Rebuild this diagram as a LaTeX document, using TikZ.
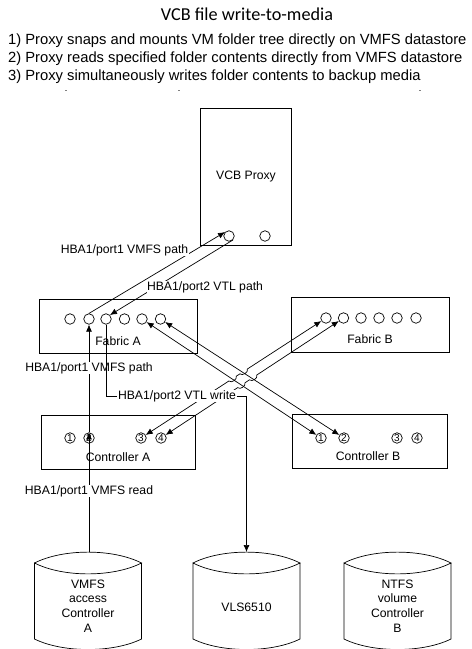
\documentclass[tikz,border=0pt]{standalone}
\usepackage{fontspec}
\setmainfont{Liberation Sans}
\newfontfamily\titlefont{Carlito}
\usetikzlibrary{positioning,arrows.meta,calc}
\tikzset{
  unitbox/.style={draw,line width=0.8pt,inner sep=0pt},
  port/.style={draw,circle,line width=0.7pt,minimum size=10.5pt,inner sep=0pt},
  ctrlport/.style={port,font=\fontsize{10}{10}\selectfont},
  lbl/.style={font=\fontsize{12.2}{14.6}\selectfont,inner sep=0.5pt,align=center},
  pathlbl/.style={lbl,fill=white},
  headline/.style={font=\fontsize{14.75}{18}\selectfont,anchor=west,inner sep=0pt},
  link/.style={line width=0.7pt,-{Latex[length=7pt,width=6pt]}},
  duplex/.style={line width=0.7pt,{Latex[length=7pt,width=6pt]}-{Latex[length=7pt,width=6pt]}}
}
\begin{document}
\begin{tikzpicture}[x=1pt,y=-1pt]
  \useasboundingbox (0,0) rectangle (472,649);
  % heading
  \node[font=\titlefont\fontsize{18.2}{18}\selectfont,inner sep=0pt] (title) at (247,14) {VCB file write-to-media};
  \node[headline] (step1) at (8,41) {1) Proxy snaps and mounts VM folder tree directly on VMFS datastore};
  \node[headline] (step2) at (8,59) {2) Proxy reads specified folder contents directly from VMFS datastore};
  \node[headline] (step3) at (8,77) {3) Proxy simultaneously writes folder contents to backup media};
  \foreach \x in {66,179,420}
    \draw[gray,line width=0.5pt] (\x-1,90.5) -- (\x+1,90.5);
  % boxes
  \node[unitbox,minimum width=91pt,minimum height=137pt] (proxy) at (246,176.5) {};
  \node[unitbox,minimum width=158pt,minimum height=54pt] (fabA) at (118,326) {};
  \node[unitbox,minimum width=158pt,minimum height=55pt] (fabB) at (370,324.5) {};
  \node[unitbox,minimum width=154pt,minimum height=54pt] (ctrlA) at (118,442) {};
  \node[unitbox,minimum width=155pt,minimum height=54pt] (ctrlB) at (369.5,441) {};
  \node[lbl] (proxytxt) at (246,177) {VCB Proxy};
  \node[lbl] (fabAtxt) at (118,341) {Fabric A};
  \node[lbl] (fabBtxt) at (370,339) {Fabric B};
  \node[lbl] (ctrlAtxt) at (118,457) {Controller A};
  \node[lbl] (ctrlBtxt) at (368,456) {Controller B};
  % ports
  \node[port] (pp1) at (229,236) {};
  \node[port] (pp2) at (265,236) {};
  \foreach \i/\x in {1/70,2/89,3/106,4/124.5,5/142,6/160.5}
    \node[port] (fa\i) at (\x,319) {};
  \foreach \i/\x in {1/326,2/343.5,3/361,4/379,5/397,6/416}
    \node[port] (fb\i) at (\x,318) {};
  \foreach \i/\x in {1/70,2/89,3/141,4/161}
    \node[ctrlport] (ca\i) at (\x,438) {\i};
  \foreach \i/\x in {1/321,2/344,3/397,4/417}
    \node[ctrlport] (cb\i) at (\x,438) {\i};
  % disks
  \foreach \cx in {88,246.5,397.5} {
    \draw[line width=0.7pt] (\cx-53.5,563) .. controls (\cx-25,548.5) and (\cx+25,548.5) .. (\cx+53.5,563)
      .. controls (\cx+25,577.5) and (\cx-25,577.5) .. (\cx-53.5,563) -- (\cx-53.5,639)
      .. controls (\cx-25,653) and (\cx+25,653) .. (\cx+53.5,639) -- (\cx+53.5,563);
  }
  \node[lbl] (vmfs) at (88,606) {VMFS\\access\\Controller\\A};
  \node[lbl] (vls) at (246.5,607) {VLS6510};
  \node[lbl] (ntfs) at (397.5,606) {NTFS\\volume\\Controller\\B};
  \coordinate (vmfstop) at (89,552);
  \coordinate (vlstop) at (246.5,552);
  % paths
  \draw[link] (fa2.north) -- (pp1.north west);
  \draw[link] (pp1.south east) -- (fa3.north east);
  \draw[link] (ca2.north) -- (fa2);
  \draw[link] (vmfstop) -- (ca2.north);
  \draw[duplex] (fa5) -- (cb1);
  \draw[duplex] (fa6) -- (cb2);
  \coordinate (h1a) at ($(fb1)!0.425!(ca3)$);
  \coordinate (h1b) at ($(fb1)!0.465!(ca3)$);
  \coordinate (h2a) at ($(fb1)!0.485!(ca3)$);
  \coordinate (h2b) at ($(fb1)!0.525!(ca3)$);
  \coordinate (h3a) at ($(fb2)!0.475!(ca4)$);
  \coordinate (h3b) at ($(fb2)!0.515!(ca4)$);
  \coordinate (h4a) at ($(fb2)!0.54!(ca4)$);
  \coordinate (h4b) at ($(fb2)!0.58!(ca4)$);
  \draw[duplex] (fb1) -- (h1a) to[bend left=80] (h1b) -- (h2a) to[bend left=80] (h2b) -- (ca3);
  \draw[duplex] (fb2) -- (h3a) to[bend left=80] (h3b) -- (h4a) to[bend left=80] (h4b) -- (ca4);
  % labels on the paths
  \node[pathlbl] (lab1) at (124.5,250) {HBA1/port1 VMFS path};
  \node[pathlbl] (lab2) at (205,287) {HBA1/port2 VTL path};
  \node[pathlbl] (lab3) at (89,368) {HBA1/port1 VMFS path};
  \node[pathlbl] (lab4) at (177,396) {HBA1/port2 VTL write};
  \node[pathlbl] (lab5) at (89,491) {HBA1/port1 VMFS read};
  \draw[line width=0.7pt] (fa3) |- (lab4.west);
  \draw[link] (lab4.east) -| (vlstop);
\end{tikzpicture}
\end{document}
